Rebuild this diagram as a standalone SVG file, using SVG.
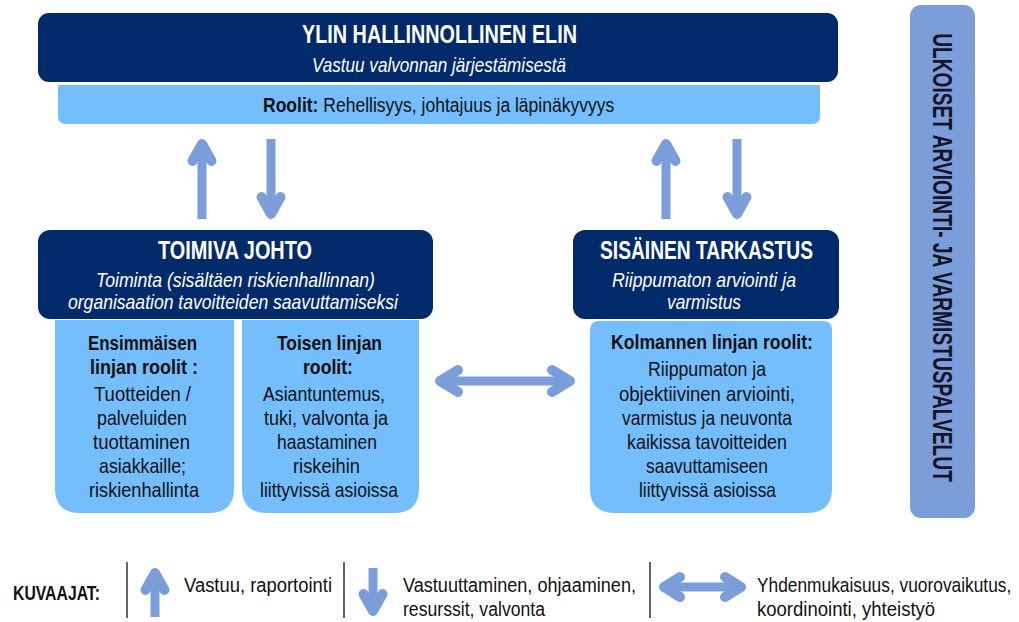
<svg xmlns="http://www.w3.org/2000/svg" width="1019" height="622" viewBox="0 0 1019 622">
<style>
text{font-family:"Liberation Sans",Arial,sans-serif}
.dark{fill:#012A6B}
.light{fill:#74BEFD}
.ttl{font-weight:bold;font-size:25px;fill:#fff}
.sub{font-style:italic;font-size:21px;fill:#fff}
.body{font-size:21px;fill:#111}
.b{font-weight:bold}
.leg{font-size:20px;fill:#111}
.shaft{stroke:#7B9EDB;stroke-width:9;fill:none}
.head{stroke:#7B9EDB;stroke-width:10;fill:none;stroke-linejoin:round;stroke-linecap:round}
.sep{stroke:#333;stroke-width:1.5}
</style>
<rect width="1019" height="622" fill="#fff"/>

<g id="governing-body">
<rect class="dark" x="38" y="13" width="800" height="69" rx="11"/>
<path class="light" d="M58,85 H820 V116 Q820,124 812,124 H66 Q58,124 58,116 Z"/>
<text class="ttl" x="302" y="43" textLength="275" lengthAdjust="spacingAndGlyphs">YLIN HALLINNOLLINEN ELIN</text>
<text class="sub" x="312" y="72" textLength="254" lengthAdjust="spacingAndGlyphs">Vastuu valvonnan järjestämisestä</text>
<text class="body" transform="translate(263,112) scale(0.834,1)" x="0" y="0"><tspan class="b">Roolit:</tspan> Rehellisyys, johtajuus ja läpinäkyvyys</text>
</g>

<g id="management">
<rect class="dark" x="38" y="230" width="395" height="89" rx="12"/>
<text class="ttl" x="158" y="259" textLength="154" lengthAdjust="spacingAndGlyphs">TOIMIVA JOHTO</text>
<text class="sub" x="96" y="287" textLength="279" lengthAdjust="spacingAndGlyphs">Toiminta (sisältäen riskienhallinnan)</text>
<text class="sub" x="68" y="309" textLength="330" lengthAdjust="spacingAndGlyphs">organisaation tavoitteiden saavuttamiseksi</text>
</g>

<g id="first-line">
<path class="light" d="M55,320 H234 V488 Q234,513 209,513 H80 Q55,513 55,488 Z"/>
<text class="body b" x="88" y="350" textLength="109" lengthAdjust="spacingAndGlyphs">Ensimmäisen</text>
<text class="body b" x="90" y="374" textLength="108" lengthAdjust="spacingAndGlyphs">linjan roolit :</text>
<text class="body" x="94" y="401" textLength="97" lengthAdjust="spacingAndGlyphs">Tuotteiden /</text>
<text class="body" x="97" y="425" textLength="90" lengthAdjust="spacingAndGlyphs">palveluiden</text>
<text class="body" x="93" y="449" textLength="97" lengthAdjust="spacingAndGlyphs">tuottaminen</text>
<text class="body" x="99" y="473" textLength="87" lengthAdjust="spacingAndGlyphs">asiakkaille;</text>
<text class="body" x="89" y="497" textLength="110" lengthAdjust="spacingAndGlyphs">riskienhallinta</text>
</g>

<g id="second-line">
<path class="light" d="M242,320 H419 V488 Q419,513 394,513 H267 Q242,513 242,488 Z"/>
<text class="body b" x="277" y="350" textLength="105" lengthAdjust="spacingAndGlyphs">Toisen linjan</text>
<text class="body b" x="303" y="374" textLength="50" lengthAdjust="spacingAndGlyphs">roolit:</text>
<text class="body" x="263" y="401" textLength="122" lengthAdjust="spacingAndGlyphs">Asiantuntemus,</text>
<text class="body" x="264" y="425" textLength="124" lengthAdjust="spacingAndGlyphs">tuki, valvonta ja</text>
<text class="body" x="277" y="449" textLength="100" lengthAdjust="spacingAndGlyphs">haastaminen</text>
<text class="body" x="293" y="473" textLength="67" lengthAdjust="spacingAndGlyphs">riskeihin</text>
<text class="body" x="260" y="497" textLength="138" lengthAdjust="spacingAndGlyphs">liittyvissä asioissa</text>
</g>

<g id="internal-audit">
<rect class="dark" x="573" y="230" width="266" height="89" rx="12"/>
<text class="ttl" x="600" y="259" textLength="213" lengthAdjust="spacingAndGlyphs">SISÄINEN TARKASTUS</text>
<text class="sub" x="612" y="287" textLength="184" lengthAdjust="spacingAndGlyphs">Riippumaton arviointi ja</text>
<text class="sub" x="667" y="309" textLength="74" lengthAdjust="spacingAndGlyphs">varmistus</text>
</g>

<g id="third-line">
<path class="light" d="M590,330 Q590,321 599,321 H823 Q832,321 832,330 V488 Q832,513 807,513 H615 Q590,513 590,488 Z"/>
<text class="body b" x="611" y="349" textLength="202" lengthAdjust="spacingAndGlyphs">Kolmannen linjan roolit:</text>
<text class="body" x="648" y="376" textLength="118" lengthAdjust="spacingAndGlyphs">Riippumaton ja</text>
<text class="body" x="619" y="401" textLength="176" lengthAdjust="spacingAndGlyphs">objektiivinen arviointi,</text>
<text class="body" x="622" y="425" textLength="170" lengthAdjust="spacingAndGlyphs">varmistus ja neuvonta</text>
<text class="body" x="627" y="449" textLength="160" lengthAdjust="spacingAndGlyphs">kaikissa tavoitteiden</text>
<text class="body" x="646" y="473" textLength="122" lengthAdjust="spacingAndGlyphs">saavuttamiseen</text>
<text class="body" x="639" y="497" textLength="137" lengthAdjust="spacingAndGlyphs">liittyvissä asioissa</text>
</g>

<g id="external-assurance">
<rect x="910" y="5" width="65" height="513" rx="11" fill="#7B9EDB"/>
<text transform="translate(933,257.5) rotate(90) scale(0.685,1)" x="0" y="0" text-anchor="middle" font-weight="bold" font-size="28" fill="#15152a">ULKOISET ARVIOINTI- JA VARMISTUSPALVELUT</text>
</g>

<g id="connectors">
<line class="shaft" x1="202" y1="147" x2="202" y2="219"/>
<polyline class="head" points="192.5,161 202,144 211.5,161"/>
<line class="shaft" x1="271" y1="139" x2="271" y2="211"/>
<polyline class="head" points="261.5,197 271,214 280.5,197"/>
<line class="shaft" x1="666" y1="147" x2="666" y2="219"/>
<polyline class="head" points="656.5,161 666,144 675.5,161"/>
<line class="shaft" x1="737" y1="139" x2="737" y2="211"/>
<polyline class="head" points="727.5,197 737,214 746.5,197"/>
<line class="shaft" x1="444" y1="381" x2="566" y2="381"/>
<polyline class="head" points="458,370 440,381 458,392"/>
<polyline class="head" points="552,370 570,381 552,392"/>
</g>

<g id="legend">
<text class="leg b" x="13" y="600" textLength="87" lengthAdjust="spacingAndGlyphs">KUVAAJAT:</text>
<line class="sep" x1="127" y1="562" x2="127" y2="618"/>
<line class="shaft" x1="155" y1="576" x2="155" y2="617"/>
<polyline class="head" points="145.5,590 155,573 164.5,590"/>
<text class="leg" x="184" y="592" textLength="148" lengthAdjust="spacingAndGlyphs">Vastuu, raportointi</text>
<line class="sep" x1="344" y1="562" x2="344" y2="618"/>
<line class="shaft" x1="373" y1="568" x2="373" y2="608"/>
<polyline class="head" points="363.5,594 373,611 382.5,594"/>
<text class="leg" x="403" y="592" textLength="233" lengthAdjust="spacingAndGlyphs">Vastuuttaminen, ohjaaminen,</text>
<text class="leg" x="403" y="616" textLength="142" lengthAdjust="spacingAndGlyphs">resurssit, valvonta</text>
<line class="sep" x1="650" y1="562" x2="650" y2="618"/>
<line class="shaft" x1="668" y1="587" x2="737" y2="587"/>
<polyline class="head" points="680,577 664,587 680,597"/>
<polyline class="head" points="725,577 741,587 725,597"/>
<text class="leg" transform="translate(757,592) scale(0.867,1)" x="0" y="0">Yhdenmukaisuus, vuorovaikutus,</text>
<text class="leg" transform="translate(757,616) scale(0.927,1)" x="0" y="0">koordinointi, yhteistyö</text>
</g>
</svg>
